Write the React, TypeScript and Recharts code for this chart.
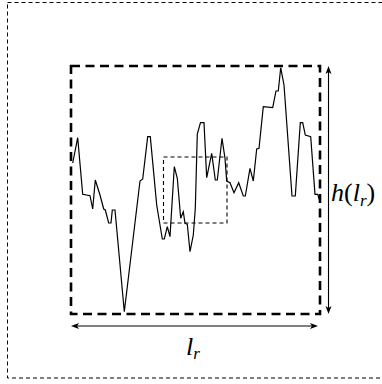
import React from 'react';
import { LineChart, Line, XAxis, YAxis, ReferenceArea } from 'recharts';

const xs = [
  1.7, 6.7, 11.7, 19, 21.7, 24.3, 29, 32.7, 34.3, 37.7, 40, 41.3, 44, 53.3, 69, 71.7,
  76.7, 79.3, 85.7, 91.3, 93.3, 96.3, 99, 103.3, 106.3, 109.7, 112.3, 114, 116.3, 119,
  122.3, 124.3, 126.3, 129.5, 133, 135.7, 140.7, 144.3, 146.3, 151, 154, 155.7, 159, 163,
  167.7, 172.3, 174.3, 179, 182.3, 185.7, 188, 192.3, 201.7, 205, 207.3, 209.7, 213, 221,
  224.3, 229.3, 231.7, 234.3, 239.7, 244, 246.7, 249,
];
const ys = [
  151, 176.3, 119.7, 118.3, 105, 134, 119, 105, 104, 91, 91, 104, 104, 2.3, 133, 135,
  177.3, 177.3, 109, 75, 75, 87.3, 77.3, 147.3, 135.7, 95.7, 102.3, 90.7, 89.7, 62.3,
  79, 105.7, 180, 191.3, 191.3, 136.3, 160.7, 134, 134, 175.7, 155.7, 133, 131.3, 121.3,
  131.3, 118, 118, 145.7, 133, 165, 165.7, 207.3, 206.3, 223, 223, 246.3, 229, 118,
  118, 191.3, 191.3, 179, 177.3, 119.7, 119.7, 112.3,
];

// box sizes: the big one is the whole range, the small one a sub-window
const bigBox = { x1: 0, x2: 249, y1: 0, y2: 248 };
const smallBox = { x1: 92.5, x2: 156, y1: 91, y2: 157 };

const data = xs.map((x, i) => ({ x, y: ys[i] }));

const serif = '"Liberation Serif", "DejaVu Serif", serif';

export default function App() {
  return (
    <div style={{ position: 'absolute', left: 0, top: 0, width: 382, height: 384 }}>
      <LineChart
        width={382}
        height={384}
        data={data}
        margin={{ top: 66, right: 62, bottom: 70, left: 71 }}
      >
        <XAxis type="number" dataKey="x" domain={[bigBox.x1, bigBox.x2]} hide />
        <YAxis type="number" domain={[bigBox.y1, bigBox.y2]} hide />
        <ReferenceArea
          {...bigBox}
          fill="none"
          stroke="#000"
          strokeWidth={2.6}
          strokeDasharray="9 5.5"
          ifOverflow="visible"
        />
        <ReferenceArea
          {...smallBox}
          fill="none"
          stroke="#000"
          strokeWidth={1.1}
          strokeDasharray="4 3"
        />
        <Line
          type="linear"
          dataKey="y"
          stroke="#000"
          strokeWidth={1.2}
          dot={false}
          isAnimationActive={false}
        />
      </LineChart>
      <svg
        width={382}
        height={384}
        style={{ position: 'absolute', left: 0, top: 0, pointerEvents: 'none' }}
      >
        <rect
          x={7.5}
          y={2.5}
          width={380}
          height={375.5}
          fill="none"
          stroke="#000"
          strokeWidth={1}
          strokeDasharray="4 3"
        />
        {/* vertical size arrow */}
        <line x1={328.5} y1={70} x2={328.5} y2={310} stroke="#000" strokeWidth={1.1} />
        <path d="M328.5,66 L325.5,74 L328.5,72 L331.5,74 Z" fill="#000" />
        <path d="M328.5,314 L325.5,306 L328.5,308 L331.5,306 Z" fill="#000" />
        {/* horizontal size arrow */}
        <line x1={75} y1={326} x2={314} y2={326} stroke="#000" strokeWidth={1.1} />
        <path d="M71,326 L79,323 L77,326 L79,329 Z" fill="#000" />
        <path d="M318,326 L310,323 L312,326 L310,329 Z" fill="#000" />
        <text x={331} y={201} fontFamily={serif} fontStyle="italic" fontSize={26}>
          h
          <tspan fontStyle="normal">(</tspan>
          l
          <tspan fontSize={17} dy={5}>r</tspan>
          <tspan dy={-5} fontStyle="normal">)</tspan>
        </text>
        <text x={186} y={355} fontFamily={serif} fontStyle="italic" fontSize={26}>
          l
          <tspan fontSize={17} dy={4}>r</tspan>
        </text>
      </svg>
    </div>
  );
}
